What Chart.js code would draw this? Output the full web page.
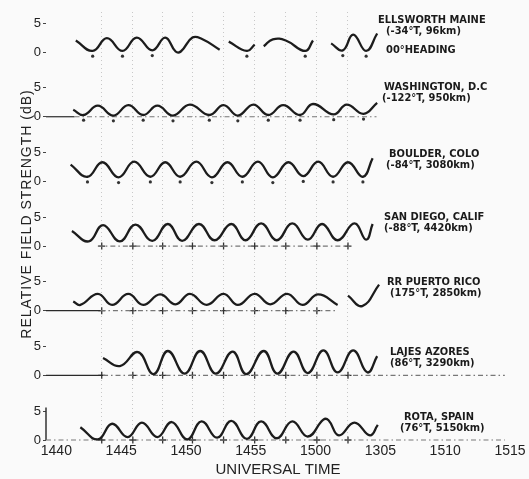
<!DOCTYPE html>
<html>
<head>
<meta charset="utf-8">
<title>Relative field strength vs universal time</title>
<script src="https://cdn.jsdelivr.net/npm/chart.js@4.4.1/dist/chart.umd.min.js"></script>
<style>
  html, body { margin: 0; padding: 0; background: #fafafa; }
  #wrap { width: 529px; height: 479px; position: relative; }
</style>
</head>
<body>
<div id="wrap"><canvas id="grafica"></canvas></div>
<script>
// Tiempo en minutos despues de 1440 UT
const xTickLabels = ['1440', '1445', '1450', '1455', '1500', '1305', '1510', '1515'];
const xTickValues = [0, 5, 10, 15, 20, 25, 30, 35];
const yTickValues = [0, 5];
const timeMarks = [3.5, 5.9, 8.2, 10.5, 12.9, 15.3, 17.7, 20.1, 22.5];

const stationNames = ['ELLSWORTH MAINE', 'WASHINGTON, D.C', 'BOULDER, COLO', 'SAN DIEGO, CALIF',
  'RR PUERTO RICO', 'LAJES AZORES', 'ROTA, SPAIN'];
const stationInfo = ['(-34°T, 96km)', '(-122°T, 950km)', '(-84°T, 3080km)', '(-88°T, 4420km)',
  '(175°T, 2850km)', '(86°T, 3290km)', '(76°T, 5150km)'];
const headingNote = '00°HEADING';

// curvas, null = hueco
const ellsworthT = [1.5, 2.8, 3.9, 5.1, 6.2, 7.4, 8.4, 9.2, 9.6, 10.5, 11.2, 12.6, 12.9, 13.3, 14.7, 15.3, 15.6, 16.0, 16.7, 17.7, 19.2, 19.8, 20.5, 21.2, 22.1, 22.9, 23.9, 24.75];
const ellsworthV = [2.0, 0.2, 2.4, 0.2, 2.5, 0.3, 2.5, 0.1, 0.1, 2.5, 2.3, 0.4, null, 1.8, 0.2, 1.3, null, 1.0, 2.2, 2.0, 0.2, 2.0, null, 1.5, 0.3, 3.0, 0.2, 3.2];

const washingtonT = [1.3, 2.1, 3.2, 4.4, 5.55, 6.7, 7.8, 9.0, 10.3, 11.8, 12.9, 14.0, 15.2, 16.35, 17.5, 18.8, 19.8, 21.4, 22.4, 23.7, 24.75];
const washingtonV = [1.2, 0.3, 1.9, 0.2, 2.0, 0.3, 1.9, 0.2, 2.1, 0.3, 2.0, 0.2, 2.1, 0.3, 2.0, 0.3, 2.2, 0.4, 2.1, 0.5, 2.4];

const boulderT = [1.1, 2.4, 3.55, 4.8, 6.0, 7.25, 8.4, 9.55, 10.8, 12.0, 13.2, 14.35, 15.55, 16.7, 17.9, 19.05, 20.2, 21.35, 22.5, 23.65, 24.4];
const boulderV = [2.9, 0.8, 3.3, 0.7, 3.4, 0.8, 3.3, 0.8, 3.4, 0.7, 3.3, 0.8, 3.4, 0.7, 3.3, 0.9, 3.4, 0.8, 3.3, 0.8, 4.0];

const sanDiegoT = [1.2, 2.5, 3.6, 4.9, 6.1, 7.4, 8.6, 9.7, 11.0, 12.2, 13.5, 14.6, 15.8, 17.0, 18.2, 19.4, 20.5, 21.7, 23.0, 23.9, 24.4];
const sanDiegoV = [2.6, 0.8, 3.6, 0.8, 3.7, 0.9, 3.8, 0.9, 3.8, 1.0, 3.8, 1.0, 3.9, 1.0, 3.9, 1.1, 3.8, 1.0, 3.9, 1.1, 3.8];

const puertoRicoT = [1.3, 1.85, 3.2, 4.3, 5.55, 6.7, 8.0, 9.2, 10.3, 11.6, 12.9, 14.0, 15.3, 16.5, 17.8, 19.0, 20.2, 21.7, 22.1, 22.5, 23.6, 24.9];
const puertoRicoV = [1.6, 1.0, 2.9, 1.0, 2.9, 1.0, 2.8, 1.1, 2.9, 1.0, 2.9, 1.0, 2.9, 1.1, 2.9, 1.0, 2.8, 1.0, null, 2.6, 0.8, 4.5];

const lajesT = [3.6, 4.9, 6.3, 7.5, 8.6, 9.9, 11.1, 12.3, 13.6, 14.65, 16.0, 17.05, 18.3, 19.4, 20.6, 21.7, 22.9, 24.0, 24.75];
const lajesV = [3.0, 1.6, 4.0, 0.2, 4.2, 0.3, 4.2, 0.3, 4.1, 0.2, 4.2, 0.3, 4.1, 0.4, 4.3, 0.5, 4.3, 0.5, 3.3];

const rotaT = [1.85, 3.2, 4.3, 5.5, 6.6, 7.8, 8.9, 10.1, 11.2, 12.4, 13.5, 14.7, 15.8, 17.0, 18.2, 19.4, 20.6, 21.0, 21.8, 23.0, 24.2, 24.8];
const rotaV = [2.2, 0.1, 2.8, 0.5, 3.0, 0.5, 3.1, 0.1, 3.2, 0.4, 3.3, 0.2, 3.2, 0.3, 3.2, 0.6, 3.5, 3.4, 0.8, 3.0, 0.8, 2.6];

// lineas de referencia (0 dB)
const washingtonBaseT = [-0.8, 1.4, 24.7];
const sanDiegoBaseT = [3.2, 22.6];
const puertoRicoBaseT = [-0.8, 3.4, 21.7];
const lajesBaseT = [-0.8, 3.6, 34.6];
const rotaBaseT = [-0.8, 34.6];
const rotaAxisV = [0, 5.6];

const panelIds = ['yE', 'yW', 'yB', 'yS', 'yP', 'yL', 'yR'];

function puntos(T, V) {
  return T.map((t, i) => ({ x: t, y: V[i] }));
}

function minimos(T, V, bajar) {
  const out = [];
  for (let i = 1; i < V.length - 1; i++) {
    if (V[i] !== null && V[i - 1] !== null && V[i + 1] !== null && V[i] < V[i - 1] && V[i] < V[i + 1]) {
      out.push({ x: T[i], y: V[i] - bajar });
    }
  }
  return out;
}

function curva(T, V, eje) {
  return {
    data: puntos(T, V), yAxisID: eje, borderColor: '#1c1c1c', borderWidth: 2.3,
    tension: 0.45, pointRadius: 0, spanGaps: false, clip: false
  };
}

function base(T, eje, punteada) {
  return {
    data: T.map(t => ({ x: t, y: 0 })), yAxisID: eje, borderColor: '#555', borderWidth: 1.2,
    pointRadius: 0, tension: 0, clip: false,
    segment: {
      borderDash: ctx => (punteada || ctx.p0DataIndex > 0) ? [5, 3, 1.5, 3] : [],
      borderColor: ctx => (!punteada && ctx.p0DataIndex === 0) ? '#2a2a2a' : '#777'
    }
  };
}

function cruces(fin, eje) {
  return {
    data: timeMarks.filter(t => t <= fin).map(t => ({ x: t, y: 0 })), yAxisID: eje,
    showLine: false, pointStyle: 'cross', pointRadius: 3.5, pointBorderWidth: 1.3,
    pointBorderColor: '#333', clip: false
  };
}

function puntitos(T, V, eje) {
  return {
    data: minimos(T, V, 0.9), yAxisID: eje, showLine: false, pointStyle: 'circle',
    pointRadius: 1.6, pointBackgroundColor: '#333', pointBorderWidth: 0, clip: false
  };
}

function ejePanel(i) {
  const arriba = i === 0;
  return {
    type: 'linear', position: 'left', stack: 'paneles', stackWeight: arriba ? 0.62 : 1,
    min: 0, max: arriba ? 6.9 : 11.15,
    afterBuildTicks: s => { s.ticks = yTickValues.map(v => ({ value: v })); },
    afterFit: s => { s.width = 46; },
    ticks: { font: { family: 'Liberation Sans', size: 13 }, color: '#222', padding: 2 },
    grid: { drawOnChartArea: false, drawTicks: true, tickLength: 3, color: '#444', lineWidth: 1 },
    border: { display: false }
  };
}

const etiquetas = {
  id: 'etiquetas',
  beforeDraw(chart) {
    const ctx = chart.ctx;
    ctx.save();
    ctx.fillStyle = '#fafafa';
    ctx.fillRect(0, 0, chart.width, chart.height);
    ctx.restore();
  },
  afterDraw(chart) {
    const ctx = chart.ctx;
    const izq = [378, 384, 389, 384, 387, 390, 404];
    const izq2 = [386, 382, 386, 384, 390, 390, 400];
    const dy = [-3, -1, 2, 0, 0, 6, 6];
    ctx.save();
    ctx.fillStyle = '#1a1a1a';
    ctx.textBaseline = 'middle';
    ctx.textAlign = 'left';
    ctx.font = 'bold 11px "Liberation Sans Narrow", "DejaVu Sans Condensed", sans-serif';
    panelIds.forEach((id, i) => {
      const y5 = chart.scales[id].getPixelForValue(5) + dy[i];
      ctx.fillText(stationNames[i], izq[i], y5);
      ctx.fillText(stationInfo[i], izq2[i], y5 + 11);
    });
    const y0 = chart.scales.yE.getPixelForValue(0);
    ctx.fillText(headingNote, 386, y0 - 2);

    ctx.font = '14px "Liberation Sans", sans-serif';
    ctx.fillStyle = '#222';
    ctx.textAlign = 'center';
    ctx.letterSpacing = '1px';
    ctx.translate(27, 214);
    ctx.rotate(-Math.PI / 2);
    ctx.fillText('RELATIVE FIELD STRENGTH (dB)', 0, 0);
    ctx.restore();
  }
};

const escalas = {
  x: {
    type: 'linear', min: -0.8, max: 35,
    afterBuildTicks: s => { s.ticks = xTickValues.map(v => ({ value: v })); },
    afterFit: s => { s.height = 39; },
    ticks: {
      callback: (v, i) => xTickLabels[i],
      font: { family: 'Liberation Sans', size: 14 }, color: '#222', padding: 3, maxRotation: 0
    },
    grid: { display: false, drawTicks: false },
    border: { display: false },
    title: { display: true, text: 'UNIVERSAL TIME', font: { family: 'Liberation Sans', size: 15 }, color: '#222', padding: 0 }
  },
  x2: {
    type: 'linear', position: 'top', min: -0.8, max: 35,
    afterBuildTicks: s => { s.ticks = timeMarks.map(v => ({ value: v })); },
    afterFit: s => { s.height = 0; },
    ticks: { display: false },
    grid: { color: 'rgba(0,0,0,0.2)', lineWidth: 1, drawTicks: false },
    border: { display: false, dash: [1, 3] }
  }
};
// los ejes apilados se colocan de abajo hacia arriba: se agregan en orden inverso
panelIds.slice().reverse().forEach(id => { escalas[id] = ejePanel(panelIds.indexOf(id)); });

new Chart(document.getElementById('grafica'), {
  type: 'line',
  data: {
    datasets: [
      curva(ellsworthT, ellsworthV, 'yE'),
      puntitos(ellsworthT, ellsworthV, 'yE'),
      curva(washingtonT, washingtonV, 'yW'),
      puntitos(washingtonT, washingtonV, 'yW'),
      base(washingtonBaseT, 'yW', false),
      curva(boulderT, boulderV, 'yB'),
      puntitos(boulderT, boulderV, 'yB'),
      curva(sanDiegoT, sanDiegoV, 'yS'),
      base(sanDiegoBaseT, 'yS', true),
      cruces(22.6, 'yS'),
      curva(puertoRicoT, puertoRicoV, 'yP'),
      base(puertoRicoBaseT, 'yP', false),
      cruces(21.7, 'yP'),
      curva(lajesT, lajesV, 'yL'),
      base(lajesBaseT, 'yL', false),
      cruces(22.6, 'yL'),
      curva(rotaT, rotaV, 'yR'),
      base(rotaBaseT, 'yR', true),
      cruces(22.6, 'yR'),
      {
        data: rotaAxisV.map(v => ({ x: -0.8, y: v })), yAxisID: 'yR', borderColor: '#333',
        borderWidth: 1.5, pointRadius: 0, clip: false
      }
    ]
  },
  options: {
    responsive: true,
    maintainAspectRatio: false,
    animation: false,
    events: [],
    layout: { padding: { top: 12, right: 19, bottom: 0, left: 0 } },
    plugins: { legend: { display: false }, tooltip: { enabled: false } },
    scales: escalas
  },
  plugins: [etiquetas]
});
</script>
</body>
</html>
